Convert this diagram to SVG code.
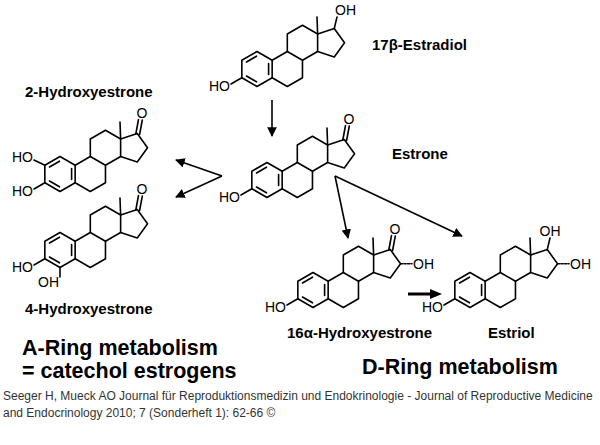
<svg xmlns="http://www.w3.org/2000/svg" xmlns:xlink="http://www.w3.org/1999/xlink" width="600" height="445" viewBox="0 0 600 445">
<style>
.b{fill:none;stroke:#000;stroke-width:1.6;stroke-linejoin:round;stroke-linecap:round}
.t{font-family:"Liberation Sans",Arial,sans-serif;font-size:14px;fill:#000}
.l{font-family:"Liberation Sans",Arial,sans-serif;font-size:15px;font-weight:bold;fill:#000}
.big{font-family:"Liberation Sans",Arial,sans-serif;font-size:21.5px;font-weight:bold;fill:#000}
.f{font-family:"Liberation Sans",Arial,sans-serif;font-size:12px;fill:#333}
.a{fill:none;stroke:#000;stroke-width:1.6;marker-end:url(#ah)}
</style>
<defs>
<marker id="ah" viewBox="0 0 10 10" refX="9" refY="5" markerWidth="6" markerHeight="6" orient="auto"><path d="M0,0 L10,5 L0,10 z" fill="#000"/></marker>
<g id="core">
<path class="b" d="M0,-17.5 L15.16,-8.75 L15.16,8.75 L0,17.5 L-15.16,8.75 L-15.16,-8.75 Z"/>
<path class="b" d="M15.16,-8.75 L30.31,-17.5 L45.47,-8.75 L45.47,8.75 L30.31,17.5 L15.16,8.75"/>
<path class="b" d="M30.31,-17.5 L30.31,-35 L45.47,-43.75 L60.62,-35 L60.62,-17.5 L45.47,-8.75"/>
<path class="b" d="M60.62,-35 L77.26,-40.41 L87.55,-26.25 L77.26,-12.09 L60.62,-17.5"/>
<path class="b" d="M60.62,-35 L60,-52"/>
<path class="b" d="M-10.5,-7 L-0.5,-12.8 M11.6,-5.5 L11.6,5.5 M-0.5,12.8 L-10.5,7"/>
<path class="b" d="M-15.16,8.75 L-26,15"/>
<text class="t" x="-27" y="22" text-anchor="end">HO</text>
</g>
<g id="keto">
<path class="b" d="M75.8,-40 L78.5,-54.5 M79.6,-39.5 L82.3,-54"/>
<text class="t" x="82" y="-56" text-anchor="middle">O</text>
</g>
</defs>

<g id="estradiol" transform="translate(257,69)">
<use xlink:href="#core"/>
<path class="b" d="M77.26,-40.41 L80,-52"/>
<text class="t" x="78" y="-54">OH</text>
</g>
<g id="estrone" transform="translate(267,180)">
<use xlink:href="#core"/><use xlink:href="#keto"/>
</g>
<g id="hydroxyestrone2" transform="translate(60,174)">
<use xlink:href="#core"/><use xlink:href="#keto"/>
<path class="b" d="M-15.16,-8.75 L-26,-14"/>
<text class="t" x="-27" y="-12" text-anchor="end">HO</text>
</g>
<g id="hydroxyestrone4" transform="translate(60,250)">
<use xlink:href="#core"/><use xlink:href="#keto"/>
<path class="b" d="M0,17.5 L0,27"/>
<text class="t" x="-1" y="37" text-anchor="end">OH</text>
</g>
<g id="hydroxyestrone16" transform="translate(313,290)">
<use xlink:href="#core"/><use xlink:href="#keto"/>
<path class="b" d="M87.55,-26.25 L99,-26.25" stroke-dasharray="2,1.5"/>
<text class="t" x="100" y="-21">OH</text>
</g>
<g id="estriol" transform="translate(470,290)">
<use xlink:href="#core"/>
<path class="b" d="M77.26,-40.41 L80,-52"/>
<text class="t" x="80" y="-54" text-anchor="middle">OH</text>
<path class="b" d="M87.55,-26.25 L99,-26.25" stroke-dasharray="2,1.5"/>
<text class="t" x="100" y="-21">OH</text>
</g>

<g id="connectors">
<line class="a" x1="272" y1="100" x2="272" y2="136"/>
<line class="a" x1="222" y1="176" x2="176" y2="160"/>
<line class="a" x1="222" y1="176" x2="176" y2="197"/>
<line class="a" x1="335" y1="176" x2="348" y2="238"/>
<line class="a" x1="335" y1="176" x2="462" y2="236"/>
<line x1="408" y1="294" x2="432" y2="294" stroke="#000" stroke-width="3"/>
<path d="M430,289 L442,294 L430,299 z" fill="#000"/>
</g>

<g id="labels">
<text class="l" x="372" y="50">17β-Estradiol</text>
<text class="l" x="25" y="97">2-Hydroxyestrone</text>
<text class="l" x="392" y="159">Estrone</text>
<text class="l" x="25" y="314">4-Hydroxyestrone</text>
<text class="l" x="287" y="338">16α-Hydroxyestrone</text>
<text class="l" x="488" y="338">Estriol</text>
<text class="big" x="22" y="355">A-Ring metabolism</text>
<text class="big" x="22" y="378">= catechol estrogens</text>
<text class="big" x="362" y="374">D-Ring metabolism</text>
<text class="f" x="3" y="400">Seeger H, Mueck AO Journal für Reproduktionsmedizin und Endokrinologie - Journal of Reproductive Medicine</text>
<text class="f" x="3" y="417">and Endocrinology 2010; 7 (Sonderheft 1): 62-66 ©</text>
</g>
</svg>
